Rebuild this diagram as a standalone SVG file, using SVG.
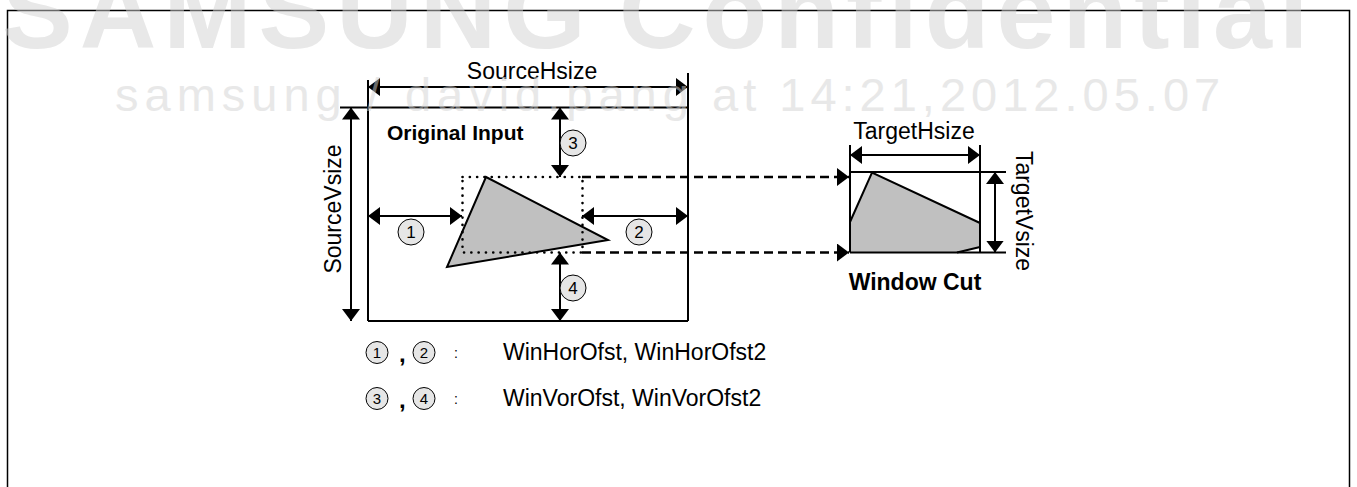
<svg xmlns="http://www.w3.org/2000/svg" width="1357" height="487" viewBox="0 0 1357 487">
<style>
.ln{fill:none;stroke:#000;stroke-width:2}
.dim{fill:none;stroke:#000;stroke-width:2;marker-start:url(#ah);marker-end:url(#ah)}
.lbl{font-family:"Liberation Sans",Arial,sans-serif;font-size:23px;fill:#000}
.bld{font-family:"Liberation Sans",Arial,sans-serif;font-weight:bold;fill:#000}
.cir{fill:#e6e6e6;stroke:#000;stroke-width:1}
.num{font-family:"Liberation Sans",Arial,sans-serif;font-size:17px;fill:#000;text-anchor:middle}
.lnum{font-family:"Liberation Sans",Arial,sans-serif;font-size:15px;fill:#000;text-anchor:middle}
.shape{fill:#c0c0c0;stroke:#000;stroke-width:2;stroke-linejoin:miter}
.dash{fill:none;stroke:#000;stroke-width:2.5;stroke-dasharray:9 5;marker-end:url(#ah)}
.wm{font-family:"Liberation Sans",Arial,sans-serif;fill:#d2d2d2;opacity:0.5}
</style>
<defs>
<marker id="ah" viewBox="0 0 12 18" refX="12" refY="9" markerWidth="12" markerHeight="18" markerUnits="userSpaceOnUse" orient="auto-start-reverse">
<path d="M0,0 L12,9 L0,18 z" fill="#000"/>
</marker>
</defs>
<rect width="1357" height="487" fill="#fff"/>
<path d="M7.5,500 V10.5 H1349.5 V500" fill="none" stroke="#000" stroke-width="1.5"/>

<g id="original-input">
<path class="ln" d="M368,80 V321 M688,73 V321 M340,107.5 H688 M368,321 H688"/>
<line class="dim" x1="368" y1="87" x2="688" y2="87"/>
<line class="dim" x1="351" y1="107.5" x2="351" y2="321"/>
<text class="lbl" x="532" y="79" text-anchor="middle">SourceHsize</text>
<text class="lbl" transform="translate(341,209) rotate(-90)" text-anchor="middle">SourceVsize</text>
<text class="bld" x="387" y="140" font-size="21">Original Input</text>
<polygon class="shape" points="486,177 608,240 447,267"/>
<rect x="462.5" y="177" width="120" height="75.5" fill="none" stroke="#000" stroke-width="2.6" stroke-dasharray="0.1 7.2" stroke-linecap="round"/>
</g>

<g id="offsets">
<line class="dim" x1="368" y1="216" x2="462" y2="216"/>
<line class="dim" x1="582" y1="216" x2="688" y2="216"/>
<line class="dim" x1="560" y1="107.5" x2="560" y2="177"/>
<line class="dim" x1="560" y1="252.5" x2="560" y2="321"/>
<circle class="cir" cx="411" cy="232" r="13"/><text class="num" x="411" y="238">1</text>
<circle class="cir" cx="639" cy="232" r="13"/><text class="num" x="639" y="238">2</text>
<circle class="cir" cx="573" cy="143" r="13"/><text class="num" x="573" y="149">3</text>
<circle class="cir" cx="573" cy="288" r="13"/><text class="num" x="573" y="294">4</text>
</g>

<g id="connectors">
<path class="dash" d="M582,177 H849"/>
<path class="dash" d="M582,252.5 H849"/>
</g>

<g id="window-cut">
<polygon points="850,222 872,172.5 980,223 980,247 957,252.5 850,252.5" fill="#c0c0c0" stroke="none"/>
<path class="ln" d="M850,222 L872,172.5 L980,223 M980,247 L957,252.5"/>
<path class="ln" d="M850,145 V252.5 M980,145 V252.5 M850,172 H1006 M850,252.5 H1006"/>
<line class="dim" x1="850" y1="155" x2="980" y2="155"/>
<line class="dim" x1="995" y1="172" x2="995" y2="252.5"/>
<text class="lbl" x="914" y="139" text-anchor="middle">TargetHsize</text>
<text class="lbl" transform="translate(1016,211) rotate(90)" text-anchor="middle">TargetVsize</text>
<text class="bld" x="915" y="290" font-size="23" text-anchor="middle">Window Cut</text>
</g>

<g id="legend">
<circle class="cir" cx="377" cy="352.5" r="11"/><text class="lnum" x="377" y="358">1</text>
<text class="bld" x="399" y="362" font-size="24">,</text>
<circle class="cir" cx="424" cy="352.5" r="11"/><text class="lnum" x="424" y="358">2</text>
<text class="lbl" x="454" y="358" style="font-size:14px">:</text>
<text class="lbl" x="503" y="360">WinHorOfst, WinHorOfst2</text>
<circle class="cir" cx="377" cy="398.5" r="11"/><text class="lnum" x="377" y="404">3</text>
<text class="bld" x="399" y="408" font-size="24">,</text>
<circle class="cir" cx="424" cy="398.5" r="11"/><text class="lnum" x="424" y="404">4</text>
<text class="lbl" x="454" y="404" style="font-size:14px">:</text>
<text class="lbl" x="503" y="406">WinVorOfst, WinVorOfst2</text>
</g>

<g id="watermark">
<text class="wm" y="48" font-size="106" font-weight="bold" letter-spacing="7"><tspan x="2">SAMSUNG</tspan><tspan x="619">Confidential</tspan></text>
<text class="wm" y="111" font-size="47" letter-spacing="6"><tspan x="115">samsung / david.pang</tspan><tspan x="712" letter-spacing="5">at 14:21,2012.05.07</tspan></text>
</g>
</svg>
